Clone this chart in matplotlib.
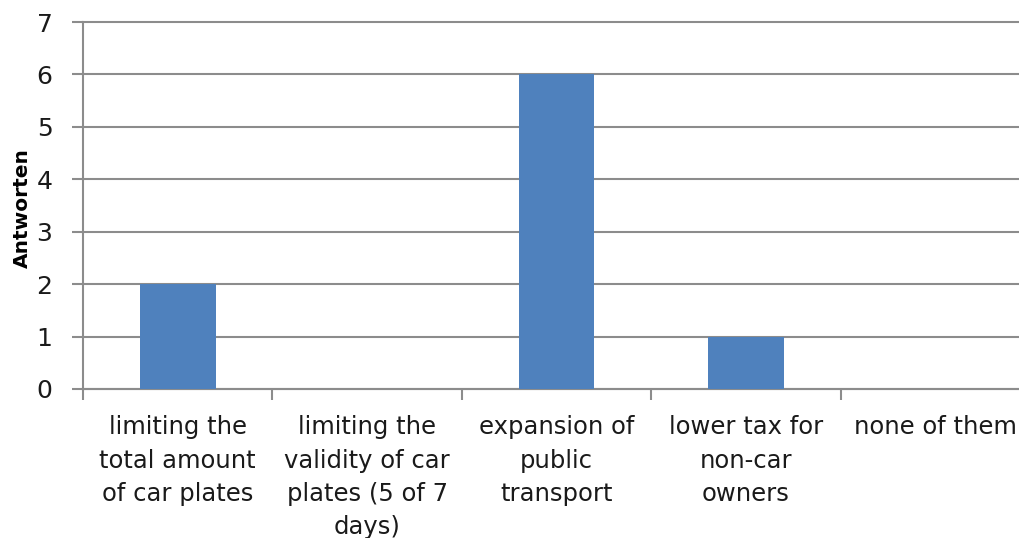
import numpy as np
import matplotlib.pyplot as plt

# answers per option
categories = ["limiting the\ntotal amount\nof car plates",
              "limiting the\nvalidity of car\nplates (5 of 7\ndays)",
              "expansion of\npublic\ntransport",
              "lower tax for\nnon-car\nowners",
              "none of them"]
answers = [2, 0, 6, 1, 0]

plt.rcParams['font.family'] = ['DejaVu Sans']

fig = plt.figure(figsize=(10.2, 5.38), dpi=100)
# right edge of the plot area runs past the image, like the original
ax = fig.add_axes([83/1020, 1 - 389/538, 947/1020, 367/538])

x = np.arange(len(categories))
ax.bar(x, answers, width=0.4, color='#4f81bd', zorder=3)

ax.set_xlim(-0.5, len(categories) - 0.5)
ax.set_ylim(0, 7)
ax.set_yticks(range(0, 8))
ax.yaxis.grid(True, color='#8c8c8c', linewidth=1.5, zorder=0)
for gl in ax.get_ygridlines():
    gl.set_clip_on(False)

# category boundaries carry the ticks, labels sit in the middle
ax.set_xticks(np.arange(-0.5, len(categories), 1.0))
ax.set_xticklabels([])
ax.set_xticks(x, minor=True)
ax.set_xticklabels(categories, minor=True, fontsize=17.5, linespacing=1.48,
                   color='#1a1a1a')
ax.tick_params(axis='x', which='minor', length=0, pad=19)
ax.tick_params(axis='x', which='major', length=8, width=1.5, color='#8c8c8c')
ax.tick_params(axis='y', length=8, width=1.5, color='#8c8c8c', labelsize=18,
               labelcolor='#1a1a1a', pad=14)

for s in ['top', 'right']:
    ax.spines[s].set_visible(False)
for s in ['left', 'bottom']:
    ax.spines[s].set_color('#8c8c8c')
    ax.spines[s].set_linewidth(1.5)

fig.text(22/1020, 1 - 208/538, "Antworten", rotation=90, fontsize=14.5,
         fontweight='bold', ha='center', va='center')

fig.savefig("out.png", dpi=100)
